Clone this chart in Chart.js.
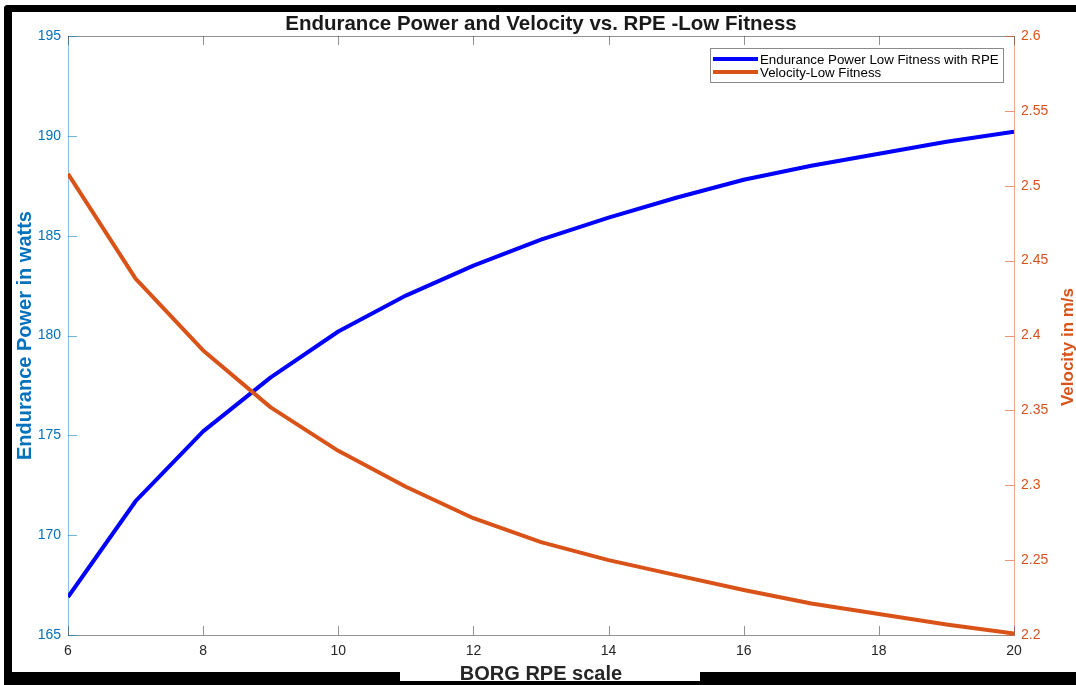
<!DOCTYPE html>
<html>
<head>
<meta charset="utf-8">
<title>Endurance Power and Velocity vs. RPE</title>
<script src="https://cdn.jsdelivr.net/npm/chart.js@4.4.1/dist/chart.umd.min.js"></script>
<style>
  html, body { margin: 0; padding: 0; background: #fff; overflow: hidden; }
  #wrap { position: relative; width: 1076px; height: 685px; }
  #c { position: absolute; left: 0; top: 0; }
  .blk { position: absolute; background: #000; pointer-events: none; }
  #frame {
    position: absolute; left: 4px; top: 5px; right: -20px; bottom: 0;
    border-top: 7px solid #000; border-left: 8px solid #000;
    border-top-left-radius: 4px; pointer-events: none;
  }
</style>
</head>
<body>
<div id="wrap">
  <canvas id="c" width="1076" height="685"></canvas>
  <div id="frame"></div>
  <div class="blk" style="left:4px;top:672px;width:396px;height:13px"></div>
  <div class="blk" style="left:400px;top:681px;width:300px;height:4px"></div>
  <div class="blk" style="left:700px;top:672px;width:376px;height:13px"></div>
</div>
<script>
// BORG RPE scale values
const rpe = [6, 7, 8, 9, 10, 11, 12, 13, 14, 15, 16, 17, 18, 19, 20];
// Endurance power (W), low fitness
const powerWatts = [166.9, 171.7, 175.2, 177.9, 180.2, 182.0, 183.5, 184.8, 185.9, 186.9, 187.8, 188.5, 189.1, 189.7, 190.2];
// Velocity (m/s), low fitness
const velocity = [2.508, 2.438, 2.390, 2.352, 2.323, 2.299, 2.278, 2.262, 2.250, 2.240, 2.230, 2.221, 2.214, 2.207, 2.201];

const xTicks = [6, 8, 10, 12, 14, 16, 18, 20];
const powerTicks = [165, 170, 175, 180, 185, 190, 195];
const velocityTicks = [2.2, 2.25, 2.3, 2.35, 2.4, 2.45, 2.5, 2.55, 2.6];

const seriesNames = ['Endurance Power Low Fitness with RPE', 'Velocity-Low Fitness'];
const titleText = 'Endurance Power and Velocity vs. RPE -Low Fitness';
const xTitle = 'BORG RPE scale';
const powerTitle = 'Endurance Power in watts';
const velocityTitle = 'Velocity in m/s';

const BLUE = '#0000ff';
const ORANGE = '#d95319';
const AXIS_BLUE = '#0072bd';
const FONT = '"Liberation Sans", Arial, Helvetica, sans-serif';

const toPoints = (ys) => rpe.map((x, i) => ({ x, y: ys[i] }));

// Inward tick marks, titles and the boxed legend, MATLAB style
const decor = {
  id: 'decor',
  afterDraw(chart) {
    const { ctx, chartArea: a, scales } = chart;
    ctx.save();
    ctx.lineWidth = 1;

    // top edge of the axes box
    ctx.strokeStyle = 'rgba(38,38,38,0.5)';
    ctx.beginPath();
    ctx.moveTo(a.left, a.top + 0.5);
    ctx.lineTo(a.right, a.top + 0.5);
    ctx.stroke();

    // x ticks, bottom and top
    xTicks.forEach(v => {
      const px = Math.round(scales.x.getPixelForValue(v)) + 0.5;
      ctx.beginPath();
      ctx.moveTo(px, a.bottom); ctx.lineTo(px, a.bottom - 9);
      ctx.moveTo(px, a.top); ctx.lineTo(px, a.top + 9);
      ctx.stroke();
    });

    // left ticks
    ctx.strokeStyle = 'rgba(0,114,189,0.55)';
    powerTicks.forEach(v => {
      const py = Math.round(scales.yP.getPixelForValue(v)) + 0.5;
      ctx.beginPath(); ctx.moveTo(a.left, py); ctx.lineTo(a.left + 9, py); ctx.stroke();
    });

    // right ticks
    ctx.strokeStyle = 'rgba(217,83,25,0.6)';
    velocityTicks.forEach(v => {
      const py = Math.round(scales.yV.getPixelForValue(v)) + 0.5;
      ctx.beginPath(); ctx.moveTo(a.right, py); ctx.lineTo(a.right - 9, py); ctx.stroke();
    });

    // chart title
    const cx = (a.left + a.right) / 2;
    ctx.textBaseline = 'alphabetic';
    ctx.textAlign = 'center';
    ctx.fillStyle = '#1a1a1a';
    ctx.font = 'bold 20.5px ' + FONT;
    ctx.fillText(titleText, cx, 30);

    // x axis title
    ctx.fillStyle = '#262626';
    ctx.font = 'bold 20px ' + FONT;
    ctx.fillText(xTitle, cx, 680);

    // y axis titles
    const cy = (a.top + a.bottom) / 2;
    ctx.save();
    ctx.translate(31, cy);
    ctx.rotate(-Math.PI / 2);
    ctx.fillStyle = AXIS_BLUE;
    ctx.fillText(powerTitle, 0, 0);
    ctx.restore();

    ctx.save();
    ctx.translate(1073, 347);
    ctx.rotate(-Math.PI / 2);
    ctx.fillStyle = ORANGE;
    ctx.font = 'bold 17px ' + FONT;
    ctx.fillText(velocityTitle, 0, 0);
    ctx.restore();

    // legend
    const lx = 710.5, ly = 48.5, lw = 293, lh = 34;
    ctx.fillStyle = '#fff';
    ctx.fillRect(lx, ly, lw, lh);
    ctx.strokeStyle = '#8a8a8a';
    ctx.strokeRect(lx, ly, lw, lh);
    const colors = [BLUE, ORANGE];
    ctx.font = '13.3px ' + FONT;
    ctx.textAlign = 'left';
    ctx.textBaseline = 'middle';
    seriesNames.forEach((name, i) => {
      const y = 59 + i * 13;
      ctx.strokeStyle = colors[i];
      ctx.lineWidth = 4;
      ctx.beginPath(); ctx.moveTo(713, y); ctx.lineTo(758, y); ctx.stroke();
      ctx.fillStyle = '#000';
      ctx.fillText(name, 760, y + 1);
    });
    ctx.restore();
  }
};

new Chart(document.getElementById('c'), {
  type: 'line',
  data: {
    datasets: [
      {
        label: seriesNames[0],
        data: toPoints(powerWatts),
        yAxisID: 'yP',
        borderColor: BLUE,
        borderWidth: 4,
        pointRadius: 0,
        tension: 0,
        borderJoinStyle: 'round',
        order: 1
      },
      {
        label: seriesNames[1],
        data: toPoints(velocity),
        yAxisID: 'yV',
        borderColor: ORANGE,
        borderWidth: 4,
        pointRadius: 0,
        tension: 0,
        borderJoinStyle: 'round',
        order: 0
      }
    ]
  },
  options: {
    responsive: false,
    animation: false,
    devicePixelRatio: 1,
    layout: { padding: { top: 36, left: 0, right: 0, bottom: 0 } },
    plugins: { legend: { display: false }, tooltip: { enabled: false }, title: { display: false } },
    scales: {
      x: {
        type: 'linear',
        position: 'bottom',
        min: 6, max: 20,
        afterFit: s => { s.height = 50; },
        afterBuildTicks: s => { s.ticks = xTicks.map(v => ({ value: v })); },
        grid: { display: false, drawTicks: false },
        border: { display: true, color: 'rgba(38,38,38,0.5)', width: 1 },
        ticks: { color: '#262626', padding: 8, font: { size: 14, family: FONT }, maxRotation: 0 }
      },
      yP: {
        type: 'linear',
        position: 'left',
        min: 165, max: 195,
        afterFit: s => { s.width = 68; },
        afterBuildTicks: s => { s.ticks = powerTicks.map(v => ({ value: v })); },
        grid: { display: false, drawTicks: false },
        border: { display: true, color: 'rgba(0,114,189,0.45)', width: 1 },
        ticks: { color: AXIS_BLUE, padding: 7, font: { size: 14, family: FONT } }
      },
      yV: {
        type: 'linear',
        position: 'right',
        min: 2.2, max: 2.6,
        afterFit: s => { s.width = 62; },
        afterBuildTicks: s => { s.ticks = velocityTicks.map(v => ({ value: v })); },
        grid: { display: false, drawTicks: false },
        border: { display: true, color: 'rgba(217,83,25,0.5)', width: 1 },
        ticks: {
          color: ORANGE, padding: 7, font: { size: 14, family: FONT },
          callback: v => String(+Number(v).toFixed(2))
        }
      }
    }
  },
  plugins: [decor]
});
</script>
</body>
</html>
